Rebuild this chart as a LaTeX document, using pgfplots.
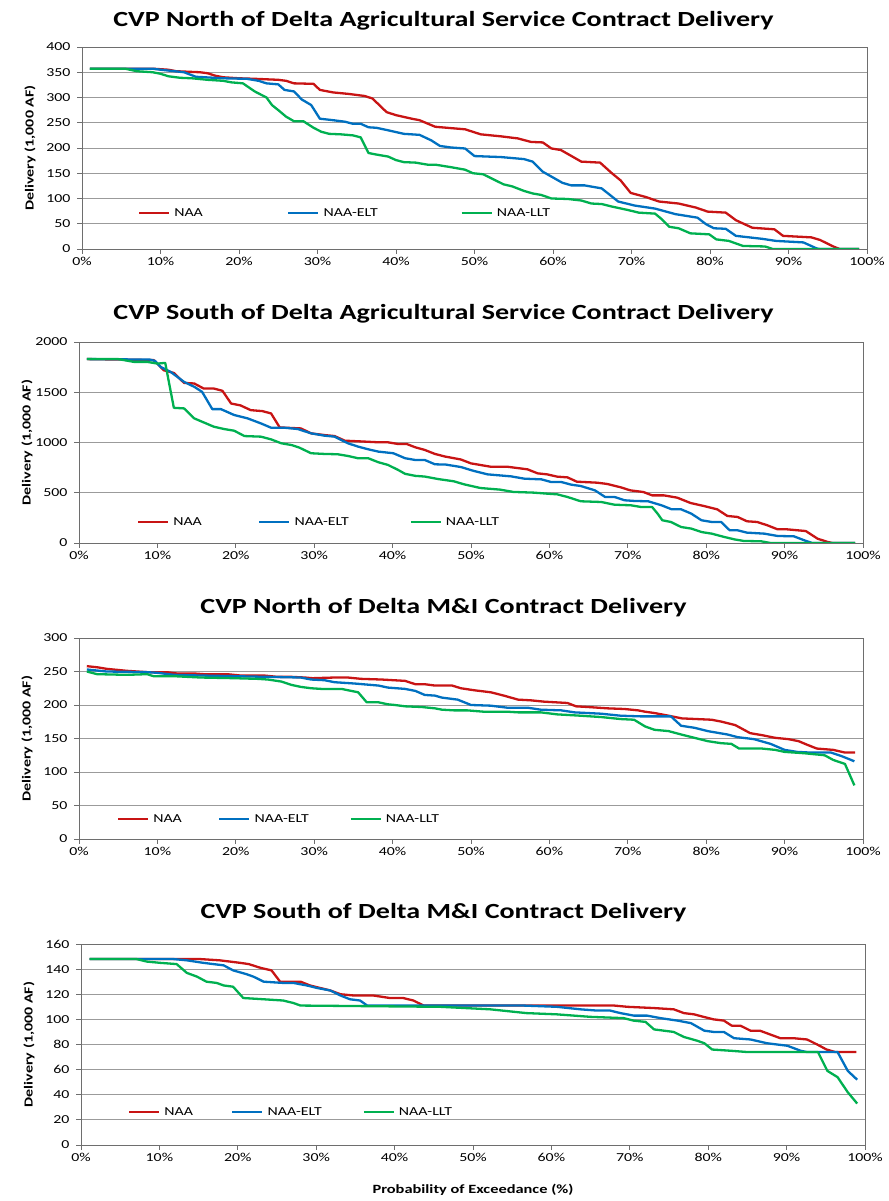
\documentclass[border=0pt]{standalone}
\usepackage{fontspec}
\setmainfont{Carlito}[FakeStretch=1.3]
\usepackage{pgfplots}
\pgfplotsset{compat=1.18}
\definecolor{cred}{RGB}{200,20,20}
\definecolor{cblue}{RGB}{0,112,192}
\definecolor{cgreen}{RGB}{0,176,80}
\definecolor{gridc}{RGB}{155,155,155}
\definecolor{framec}{RGB}{110,110,110}
\pgfplotsset{
  exstyle/.style={
    scale only axis,
    xmin=0, xmax=100,
    xtick={0,10,...,100},
    xticklabels={0\%,10\%,20\%,30\%,40\%,50\%,60\%,70\%,80\%,90\%,100\%},
    ymajorgrids,
    grid style={gridc, line width=0.8pt},
    axis line style={framec, line width=0.8pt},
    tick style={framec, line width=0.8pt},
    tick align=outside,
    major tick length=5pt,
    tick pos=left,
    scaled y ticks=false,
    /pgf/number format/assume math mode=true,
    /pgf/number format/1000 sep={},
    tick label style={font=\fontsize{12.2}{14}\selectfont},
    yticklabel style={xshift=-3pt},
    every axis y label/.style={at={(axis description cs:0,0.5)}, xshift=-52pt, rotate=90, anchor=center, font=\bfseries\fontsize{12.3}{14}\selectfont},
    every axis x label/.style={at={(axis description cs:0.5,0)}, yshift=-45pt, anchor=center, font=\bfseries\fontsize{12.6}{14}\selectfont},
    ylabel={Delivery (1,000 AF)},
    every axis plot/.append style={line width=2.3pt, no markers, line join=round},
    legend style={draw=none, fill=none, inner sep=0pt, outer sep=0pt, anchor=west, legend columns=3,
      font=\fontsize{12.2}{14}\selectfont, nodes={inner sep=0pt},
      /tikz/every odd column/.append style={column sep=4pt}},
    legend image code/.code={\draw[#1] (0pt,0pt) -- (30pt,0pt);},
  }
}
\begin{document}
\begin{tikzpicture}
\path (0,0) rectangle (887pt,1201pt);
\node[anchor=base, font=\bfseries\fontsize{21.6}{24}\selectfont] at (443.5pt,1174pt) {CVP North of Delta Agricultural Service Contract Delivery};
\node[anchor=base, font=\bfseries\fontsize{21.6}{24}\selectfont] at (443.5pt,881pt) {CVP South of Delta Agricultural Service Contract Delivery};
\node[anchor=base, font=\bfseries\fontsize{21.6}{24}\selectfont] at (443.5pt,587pt) {CVP North of Delta M\&I Contract Delivery};
\node[anchor=base, font=\bfseries\fontsize{21.6}{24}\selectfont] at (443.5pt,282pt) {CVP South of Delta M\&I Contract Delivery};

% Panel 1
\begin{axis}[exstyle, at={(82pt,952pt)}, anchor=south west, width=785pt, height=202pt,
  ymin=0, ymax=400, ytick={0,50,...,400},
  legend style={at={(0.0713,0.178)}}]
\addplot[cred] coordinates {(1,357)(9,357)(11,355)(12,352)(15,350)(16,348)(17,343)(18,340)(20,338)(22,337)(25,335)(26,333)(27,328)(29.5,327)(30.3,315)(32,310)(34,307)(36,303)(37,298)(38.8,271)(40,265)(42,258)(43,255)(45,242)(46.5,240)(48.8,237)(50.8,227)(53.4,223)(55.5,219)(57.2,212)(58.7,211)(59.8,199)(61,196)(63.6,173)(66,171)(67.5,150)(68.6,136)(69.9,111)(71.8,103)(73.5,94)(76,90)(78.2,82)(79.7,74)(82,72)(83.3,57)(85.4,42)(88.2,39)(89.3,26)(92.9,23)(94,18)(95.7,5)(96.5,0)(99,0)};
\addlegendentry{\makebox[113pt][l]{NAA}}
\addplot[cblue] coordinates {(1,357)(9,357)(10,355)(13,350)(14.5,341)(18,338)(21,337)(22.5,333)(23.5,328)(25,326)(25.8,315)(27,312)(28,296)(29.2,285)(30.3,258)(32,255)(33.5,252)(34.5,248)(35.5,248)(36.5,241)(37.5,240)(39,235)(41,228)(43,226)(44.5,215)(45.6,204)(47,201)(48.8,199)(50,184)(53.4,182)(56.3,178)(57.4,173)(58.7,153)(61.2,131)(62.3,126)(64,126)(66.2,120)(68.3,94)(70.4,86)(73,80)(75.6,69)(78.4,62)(79.5,49)(80.5,41)(82,40)(83.3,26)(86.7,20)(88.4,16)(91.9,13)(93.6,1)(94,0)(99,0)};
\addlegendentry{\makebox[137pt][l]{NAA-ELT}}
\addplot[cgreen] coordinates {(1,357)(5.5,357)(7,352)(9,350)(10,347)(11,342)(12.5,339)(14,338)(16,335)(18,333)(19,330)(20.5,328)(22,312)(23.5,300)(24.2,285)(25,275)(26,262)(27,253)(28.2,253)(29.5,240)(30.5,232)(31.5,228)(33,227)(34.5,225)(35.5,221)(36.5,190)(37.5,187)(39,183)(40,176)(41,172)(42.5,171)(44,167)(45,167)(47,162)(48.8,157)(49.8,150)(51.1,148)(52.4,138)(53.7,128)(54.8,124)(56.3,115)(57.4,110)(58.5,107)(59.8,100)(61.9,99)(63.6,96)(64.9,90)(66.2,89)(67.5,84)(69.6,77)(70.9,72)(73,70)(73.7,61)(74.8,44)(76,41)(77.5,31)(79.9,29)(80.8,19)(82.4,16)(84.2,6)(87,5)(88,0)(99,0)};
\addlegendentry{NAA-LLT}
\end{axis}

% Panel 2
\begin{axis}[exstyle, at={(79pt,658pt)}, anchor=south west, width=784pt, height=201pt,
  ymin=0, ymax=2000, ytick={0,500,...,2000},
  legend style={at={(0.074,0.104)}}]
\addplot[cred] coordinates {(1,1830)(9.5,1820)(10,1785)(10.8,1719)(12.1,1692)(13.4,1593)(14.7,1587)(15.9,1537)(17.2,1537)(18.3,1514)(19.4,1388)(20.6,1369)(21.9,1322)(23.4,1312)(24.5,1289)(25.6,1150)(28.3,1140)(29.6,1091)(31.3,1074)(32.6,1064)(33.9,1018)(35.6,1012)(38.2,1002)(39.4,1002)(40.7,985)(41.8,985)(42.9,952)(44.1,926)(45.4,886)(46.7,860)(48.7,831)(50,792)(52.5,759)(54.6,759)(57.2,733)(58.5,693)(59.7,683)(61,660)(62.3,653)(63.5,610)(66.1,600)(67.4,587)(69.1,554)(70.3,524)(72,507)(73.1,474)(74.6,474)(76.3,451)(78,398)(79.7,368)(81.4,335)(82.7,269)(84,259)(85.2,216)(86.5,209)(87.8,176)(89.1,136)(90.3,136)(92.7,119)(94.2,43)(95.5,10)(96.1,0)(99,0)};
\addlegendentry{\makebox[85pt][l]{NAA}}
\addplot[cblue] coordinates {(1,1830)(9,1825)(9.7,1812)(10.4,1752)(11.7,1702)(13.4,1603)(14.7,1554)(15.7,1504)(17,1332)(18.1,1332)(19.8,1273)(21.5,1240)(23.2,1190)(24.5,1147)(26.2,1147)(27.9,1134)(29.6,1091)(31.3,1068)(32.6,1058)(34.3,992)(35.6,959)(36.9,932)(38.2,909)(40.1,893)(41.6,843)(42.9,826)(44.1,826)(45.4,783)(46.8,780)(48.7,756)(50.4,716)(52.1,683)(55.1,663)(56.8,640)(59,633)(60.2,607)(61.5,607)(62.8,580)(64,567)(65.8,524)(67.1,458)(68.3,458)(69.6,425)(70.9,418)(72.6,415)(74.3,375)(75.6,335)(76.8,335)(78.1,292)(79.4,226)(80.7,209)(81.9,209)(83,126)(84,126)(85.2,103)(87.4,93)(89.1,70)(91.2,66)(92.5,27)(93.5,0)(99,0)};
\addlegendentry{\makebox[115pt][l]{NAA-ELT}}
\addplot[cgreen] coordinates {(1,1830)(5,1830)(7,1802)(8.7,1802)(10,1785)(11,1792)(11.5,1587)(12.1,1345)(13.4,1339)(14.7,1240)(15.9,1200)(17.2,1157)(18.5,1134)(19.8,1117)(21.1,1064)(23.2,1058)(24.5,1031)(25.8,992)(27.1,975)(28.1,949)(29.6,893)(31.3,886)(33,883)(34.3,866)(35.6,843)(36.9,843)(38.2,803)(39.4,777)(40.7,727)(41.6,688)(42.9,668)(44.1,661)(45.9,635)(47.8,614)(49.1,584)(51.2,547)(53.7,531)(55.4,508)(58,501)(59.7,491)(61,484)(62.3,458)(64,415)(66.6,408)(68.3,381)(70.4,375)(71.7,358)(73.1,358)(73.8,292)(74.4,226)(75.5,209)(76.8,159)(78.1,143)(79.4,109)(80.7,93)(82.3,60)(83.6,36)(84.8,20)(87,17)(88.2,0)(99,0)};
\addlegendentry{NAA-LLT}
\end{axis}

% Panel 3
\begin{axis}[exstyle, at={(79pt,362pt)}, anchor=south west, width=784pt, height=201pt,
  ymin=0, ymax=300, ytick={0,50,...,300},
  legend style={at={(0.0485,0.0995)}}]
\addplot[cred] coordinates {(1,258)(2.5,256)(3.5,254)(6.1,251)(8.7,249)(11.2,249)(12.5,247)(14.7,247)(15.9,246)(18.9,246)(20.6,244)(23.6,244)(25.3,242)(27.1,242)(28.8,241)(29.8,240)(32.6,241)(34.3,241)(36,239)(38.6,238)(41.6,236)(42.9,231)(44.1,231)(45.4,229)(47.6,229)(48.7,225)(50.4,222)(52.5,219)(54.2,214)(56,208)(57.6,207)(59.3,205)(62.3,203)(63.4,198)(64.9,197)(67.4,195)(69.6,194)(71.3,192)(72.2,190)(73.4,188)(75.2,184)(76.9,180)(80.7,178)(82,175)(83.7,170)(84.5,165)(85.6,158)(87.1,155)(88.8,151)(90.5,149)(91.8,146)(92.8,141)(94.1,135)(96.2,133)(97.7,129)(99,129)};
\addlegendentry{\makebox[65pt][l]{NAA}}
\addplot[cblue] coordinates {(1,253)(3.5,250)(8.7,249)(10,248)(12.1,245)(15.5,244)(19.8,243)(24.1,242)(28.3,241)(29.6,238)(31.3,237)(32.6,234)(35.2,232)(38.2,229)(39.4,226)(41.6,224)(42.9,221)(44.1,215)(45.4,214)(46.3,211)(48.3,208)(50,200)(52.5,199)(54.6,196)(57.2,196)(58.9,193)(61.5,192)(63.2,189)(66.6,187)(69.1,184)(71.7,183)(75.5,183)(76.8,169)(78.5,166)(80.2,161)(82.7,156)(84,152)(86.1,149)(88.2,142)(90,133)(91.6,130)(93.3,129)(95.9,129)(97.2,124)(98.9,116)};
\addlegendentry{\makebox[95pt][l]{NAA-ELT}}
\addplot[cgreen] coordinates {(1,250)(2.3,246)(6.1,245)(8.7,246)(9.5,243)(12.1,243)(15.5,241)(19.8,240)(22.8,239)(24.1,238)(25.8,235)(27.1,230)(28.3,227)(29.6,225)(30.9,224)(33.5,224)(34.3,222)(35.6,219)(36.7,204)(38.2,204)(39.4,201)(40.3,200)(41.6,198)(43.7,197)(45.4,195)(46.3,193)(47.8,192)(49.5,192)(51.6,190)(54.6,190)(56,189)(58.9,189)(61,186)(64,184)(66.6,182)(69.1,179)(70.8,178)(72.2,168)(73.4,163)(75.2,161)(76.8,156)(78.5,151)(80.2,146)(81.9,143)(83.2,142)(84.2,135)(87.1,135)(88.8,133)(90,130)(92.5,128)(95.1,125)(96.2,118)(97.7,112)(98.9,80)};
\addlegendentry{NAA-LLT}
\end{axis}

% Panel 4
\begin{axis}[exstyle, at={(81pt,56pt)}, anchor=south west, width=784pt, height=201pt,
  ymin=0, ymax=160, ytick={0,20,...,160},
  xlabel={Probability of Exceedance (\%)},
  legend style={at={(0.060,0.164)}}]
\addplot[cred] coordinates {(1.1,148)(15.2,148)(17.7,147)(19,146)(20.3,145)(21.4,144)(22.9,141)(24.3,139)(25.4,130)(28,130)(29.2,127)(30.5,125)(31.8,123)(33.1,120)(34.8,119)(37.3,119)(39.4,117)(41.1,117)(42.4,115)(43.7,111)(68,111)(69.7,110)(73.1,109)(75.6,108)(76.9,105)(78.2,104)(79.4,102)(80.7,100)(82,99)(83,95)(84.1,95)(85.4,91)(86.6,91)(87.9,88)(89.2,85)(90.9,85)(92.6,84)(93.9,80)(95.1,76)(96.2,74)(98.9,74)};
\addlegendentry{\makebox[67pt][l]{NAA}}
\addplot[cblue] coordinates {(1.1,148)(11.8,148)(13.5,147)(15.6,145)(18.2,143)(19.4,139)(21.1,136)(22,134)(23.3,130)(25.8,129)(27.1,129)(28.8,127)(30.1,125)(31.8,123)(33.1,119)(34.3,116)(35.6,115)(36.5,111)(56.4,111)(60.7,110)(63.7,108)(65.8,107)(67.5,107)(68.8,105)(70.5,103)(72.2,103)(73.9,101)(76.1,99)(77.8,97)(79.5,91)(80.7,90)(82,90)(83.3,85)(85.4,84)(87.5,81)(90.1,79)(91.8,75)(92.6,74)(96.5,74)(97.8,59)(99,52)};
\addlegendentry{\makebox[95pt][l]{NAA-ELT}}
\addplot[cgreen] coordinates {(1.1,148)(7.1,148)(8.4,146)(10.1,145)(12.2,144)(13.5,137)(14.8,134)(16,130)(17.3,129)(18.2,127)(19.4,126)(20.7,117)(23.3,116)(25.8,115)(27.1,113)(28,111)(45.8,110)(52.2,108)(56.8,105)(60.7,104)(65,102)(69.2,101)(70.5,99)(72,98)(73.1,92)(75.6,90)(76.9,86)(78.6,83)(79.5,81)(80.5,76)(82.9,75)(85,74)(94,74)(95.2,59)(96.5,54)(97.8,42)(99,33)};
\addlegendentry{NAA-LLT}
\end{axis}
\end{tikzpicture}
\end{document}
